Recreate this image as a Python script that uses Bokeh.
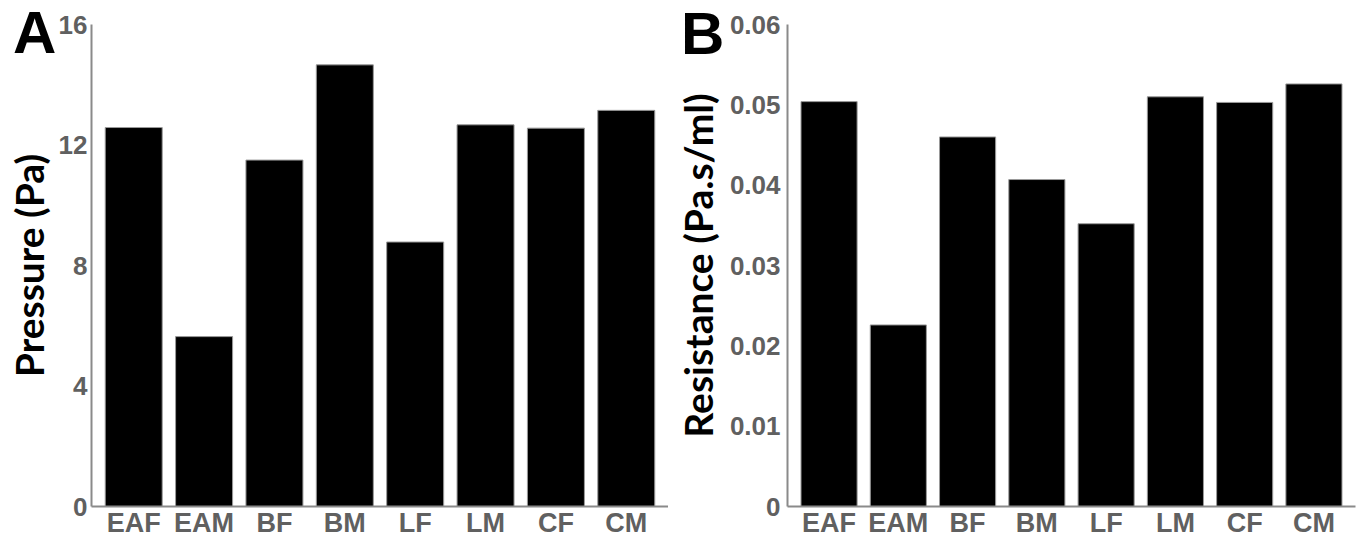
from bokeh.plotting import figure
from bokeh.models import Range1d, FixedTicker, CustomJSTickFormatter, Div, GridBox
from bokeh.embed import file_html
from bokeh.resources import INLINE

categories = ["EAF", "EAM", "BF", "BM", "LF", "LM", "CF", "CM"]
pressure = [12.58, 5.64, 11.5, 14.66, 8.78, 12.67, 12.56, 13.15]
resistance = [0.0504, 0.0226, 0.0460, 0.0407, 0.0352, 0.0510, 0.0503, 0.0526]
pressure_ticks = [0, 4, 8, 12, 16]
resistance_ticks = [0, 0.01, 0.02, 0.03, 0.04, 0.05, 0.06]

xs = list(range(1, len(categories) + 1))
x_labels = {i: c for i, c in zip(xs, categories)}

AXIS_COLOR = "#8a8a8a"
TICK_COLOR = "#606060"


def make_panel(values, yticks, ymax, ylabel, width, border_left, border_right,
               label_standoff, axis_label_standoff, fmt):
    p = figure(width=width, height=540, output_backend="svg", toolbar_location=None,
               x_range=Range1d(0.4, 8.6), y_range=Range1d(0, ymax),
               min_border_left=border_left, min_border_right=border_right,
               min_border_top=24, min_border_bottom=32)
    p.outline_line_color = None
    p.xgrid.visible = False
    p.ygrid.visible = False
    p.background_fill_color = "white"
    p.border_fill_color = "white"

    p.vbar(x=xs, top=values, width=0.81, fill_color="black",
           line_color="#9a9a9a", line_width=1)

    xa = p.xaxis[0]
    xa.ticker = FixedTicker(ticks=xs)
    xa.major_label_overrides = x_labels
    xa.major_tick_line_color = None
    xa.minor_tick_line_color = None
    xa.major_tick_out = 0
    xa.major_tick_in = 0
    xa.minor_tick_out = 0
    xa.axis_line_color = AXIS_COLOR
    xa.axis_line_width = 2
    xa.major_label_text_font = "Liberation Sans"
    xa.major_label_text_font_style = "bold"
    xa.major_label_text_font_size = "27px"
    xa.major_label_text_color = TICK_COLOR
    xa.major_label_standoff = 1

    ya = p.yaxis[0]
    ya.ticker = FixedTicker(ticks=yticks)
    ya.formatter = fmt
    ya.major_tick_line_color = None
    ya.minor_tick_line_color = None
    ya.major_tick_out = 0
    ya.major_tick_in = 0
    ya.minor_tick_out = 0
    ya.axis_line_color = AXIS_COLOR
    ya.axis_line_width = 2
    ya.major_label_text_font = "Liberation Sans"
    ya.major_label_text_font_style = "bold"
    ya.major_label_text_font_size = "26px"
    ya.major_label_text_color = TICK_COLOR
    ya.major_label_standoff = label_standoff
    ya.axis_label = ylabel
    ya.axis_label_text_font = "Lato"
    ya.axis_label_text_font_style = "bold"
    ya.axis_label_text_font_size = "39px"
    ya.axis_label_text_color = "black"
    ya.axis_label_standoff = axis_label_standoff
    return p


def panel_letter(letter, pad_left, pad_top):
    html = ('<div style="font-family: \'Liberation Sans\', Arial, sans-serif; '
            'font-weight: bold; font-size: 60px; line-height: 60px; color: #000; '
            'margin: 0; padding: %dpx 0 0 %dpx; position: relative; z-index: 10;">%s</div>'
            % (pad_top, pad_left, letter))
    return Div(text=html, width=90, height=70, margin=0, align="start",
               styles={"position": "relative", "z-index": "10"})


fmt_a = CustomJSTickFormatter(code="return tick.toFixed(0);")
fmt_b = CustomJSTickFormatter(code="return tick == 0 ? '0' : tick.toFixed(2);")

pa = make_panel(pressure, pressure_ticks, 16, "Pressure (Pa)", 668, 91, 0, 4, 4, fmt_a)
pb = make_panel(resistance, resistance_ticks, 0.06, "Resistance (Pa.s/ml)", 688, 119, 1,
                7, 6, fmt_b)

letter_a = panel_letter("A", 13, 3)
letter_b = panel_letter("B", 13, 4)

layout = GridBox(children=[(pa, 0, 0), (letter_a, 0, 0), (pb, 0, 1), (letter_b, 0, 1)],
                 spacing=0)
open("out.html", "w").write(file_html(layout, INLINE))
